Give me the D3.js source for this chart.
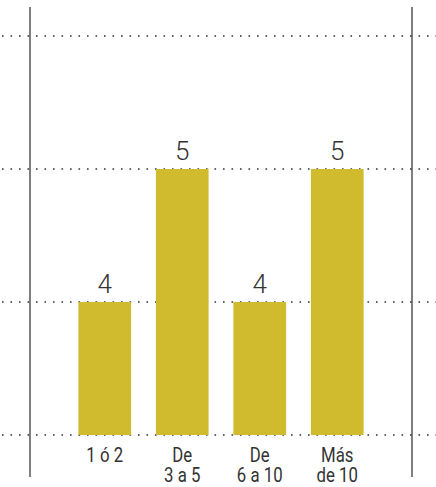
<!DOCTYPE html>
<html>
<head>
<meta charset="utf-8">
<script src="https://cdn.jsdelivr.net/npm/d3@7"></script>
<style>
  body { margin: 0; background: #fff; }
</style>
</head>
<body>
<div id="chart"></div>
<script>
// data
const categories = ["1 ó 2", "De\n3 a 5", "De\n6 a 10", "Más\nde 10"];
const values = [4, 5, 4, 5];
const gridTicks = [3, 4, 5, 6];

const width = 436, height = 487;

const svg = d3.select("#chart").append("svg")
    .attr("width", width)
    .attr("height", height);

const x = d3.scaleBand()
    .domain(categories)
    .range([66, 376])
    .paddingInner(0.32)
    .paddingOuter(0.16);

const y = d3.scaleLinear()
    .domain([3, 6])
    .range([435, 36]);

// side rules
svg.selectAll(".side")
    .data([30, 412])
    .enter().append("line")
    .attr("x1", d => d).attr("x2", d => d)
    .attr("y1", 7).attr("y2", 477)
    .attr("stroke", "#555")
    .attr("stroke-width", 1.5);

// dotted gridlines
svg.selectAll(".grid")
    .data(gridTicks)
    .enter().append("line")
    .attr("x1", 2).attr("x2", width)
    .attr("y1", d => y(d)).attr("y2", d => y(d))
    .attr("stroke", "#333")
    .attr("stroke-width", 1.6)
    .attr("stroke-dasharray", "1.6,6.9");

// bars
svg.selectAll(".bar")
    .data(values)
    .enter().append("rect")
    .attr("x", (d, i) => x(categories[i]))
    .attr("y", d => y(d))
    .attr("width", x.bandwidth())
    .attr("height", d => y(3) - y(d))
    .attr("fill", "#cfbb2d");

// value labels
svg.selectAll(".val")
    .data(values)
    .enter().append("text")
    .attr("x", (d, i) => x(categories[i]) + x.bandwidth() / 2)
    .attr("y", d => y(d) - 9)
    .attr("text-anchor", "middle")
    .attr("fill", "#333")
    .style("font-family", "Roboto, 'Liberation Sans', sans-serif")
    .style("font-weight", "300")
    .style("font-size", "26px")
    .text(d => d);

// category labels (condensed look via horizontal scale)
const cat = svg.selectAll(".cat")
    .data(categories)
    .enter().append("text")
    .attr("transform", d => `translate(${x(d) + x.bandwidth() / 2},0) scale(0.84,1)`)
    .attr("text-anchor", "middle")
    .attr("fill", "#333")
    .style("font-family", "Roboto, 'Liberation Sans', sans-serif")
    .style("font-size", "20px");

cat.selectAll("tspan")
    .data(d => d.split("\n"))
    .enter().append("tspan")
    .attr("x", 0)
    .attr("y", (d, i) => 462 + i * 20)
    .text(d => d);
</script>
</body>
</html>
